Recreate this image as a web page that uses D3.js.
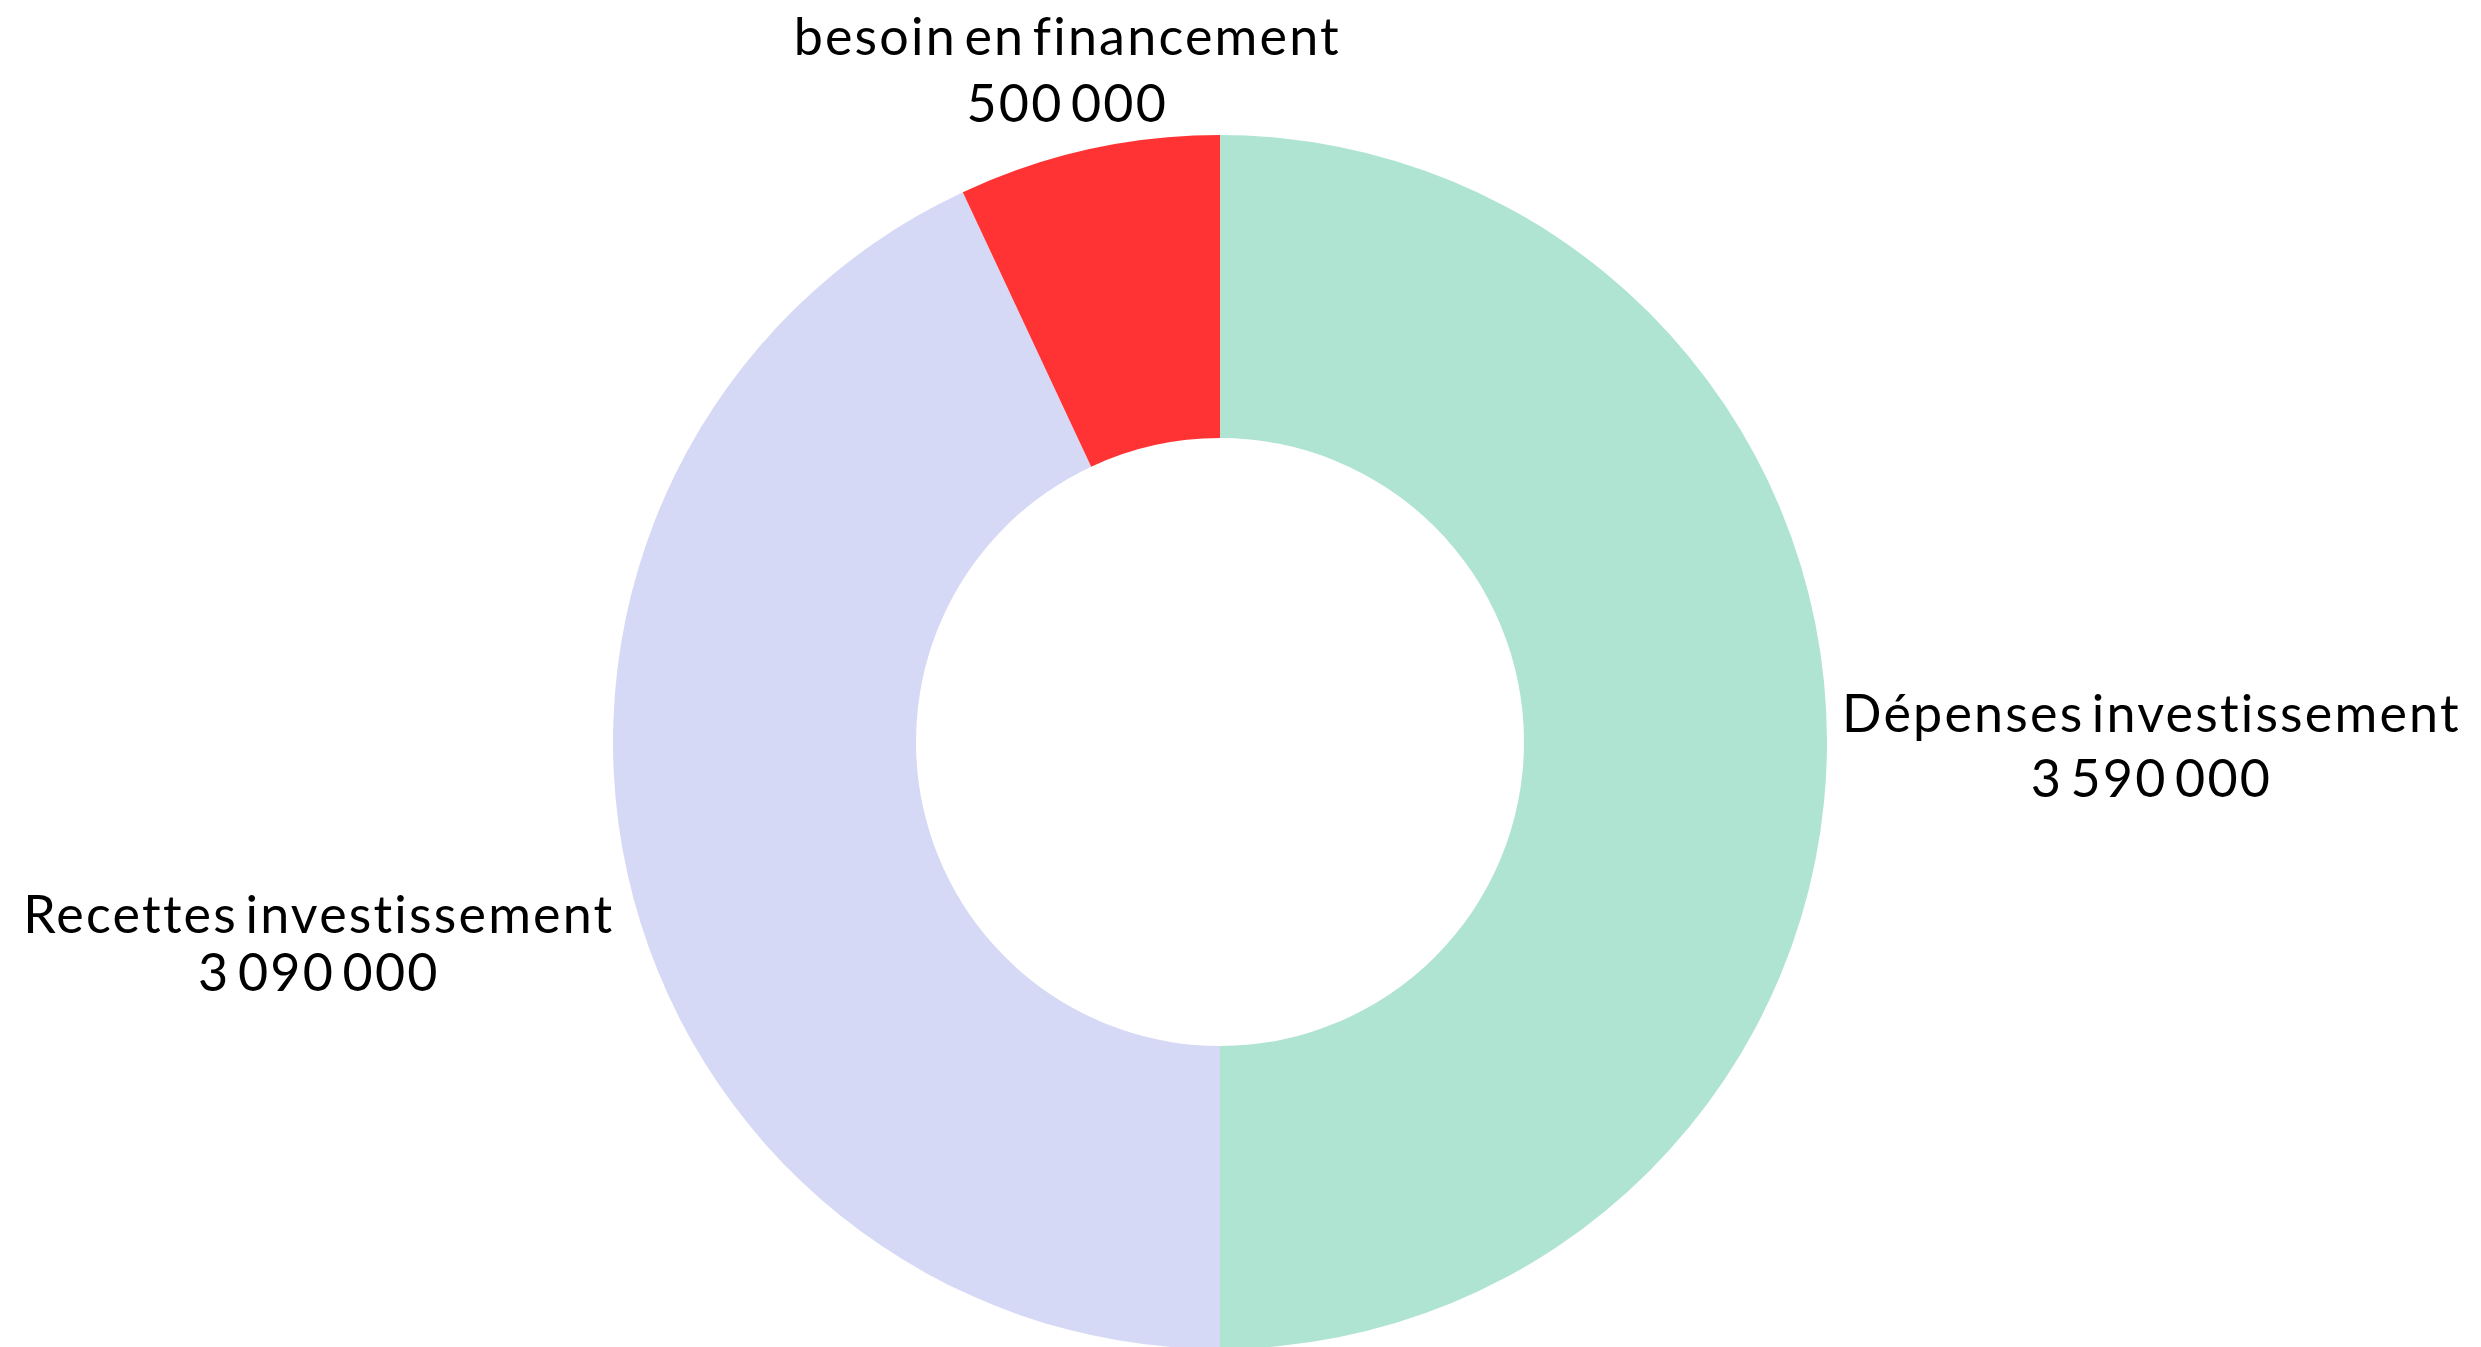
<!DOCTYPE html>
<html>
<head>
<meta charset="utf-8">
<script src="https://cdn.jsdelivr.net/npm/d3@7"></script>
<style>
  body { margin: 0; background: #fff; }
  svg text { font-family: Lato, "Noto Sans", sans-serif; fill: #000; }
</style>
</head>
<body>
<script>
// DATA
const categories = ["Dépenses investissement", "Recettes investissement", "besoin en financement"];
const values = [3590000, 3090000, 500000];
const colors = ["#b0e4d2", "#d6d9f6", "#ff3333"];

// LAYOUT
const W = 2481;
const H = 1347;
const cx = 1220;
const cy = 742;
const R = 607;
const r = 304;

// label nudges from the outer edge point at the slice middle
const labelNudge = [
  { anchor: "start", dx: 15, dy: -10, gap: 65 },
  { anchor: "end", dx: -13, dy: 59, gap: 58 },
  { anchor: "middle", dx: -21, dy: -94, gap: 67 }
];

const fmt = d3.formatLocale({ decimal: ",", thousands: " ", grouping: [3], currency: ["", " €"] }).format(",d");

const slices = categories.map((c, i) => ({ name: c, value: values[i], color: colors[i] }));

const svg = d3.select("body")
  .append("svg")
  .attr("width", W)
  .attr("height", H);

const pie = d3.pie().sort(null).value(d => d.value);
const arc = d3.arc().innerRadius(r).outerRadius(R);

const g = svg.append("g").attr("transform", `translate(${cx},${cy})`);

const arcs = pie(slices);

g.selectAll("path")
  .data(arcs)
  .enter()
  .append("path")
  .attr("d", arc)
  .attr("fill", d => d.data.color);

// labels
arcs.forEach((d, i) => {
  const mid = (d.startAngle + d.endAngle) / 2;
  const nudge = labelNudge[i];
  const x = Math.sin(mid) * R + nudge.dx;
  const y = -Math.cos(mid) * R + nudge.dy;
  const lbl = g.append("text")
    .attr("text-anchor", nudge.anchor)
    .style("font-size", "52px")
    .style("letter-spacing", "2.2px")
    .style("word-spacing", "-8px");
  lbl.append("tspan").attr("x", x).attr("y", y).text(d.data.name);
  lbl.append("tspan").attr("x", x).attr("y", y + nudge.gap).text(fmt(d.data.value));
});

// centre the value line under the name line
g.selectAll("text").each(function() {
  const t = d3.select(this);
  const spans = t.selectAll("tspan").nodes();
  const b0 = spans[0].getBBox();
  const mx = b0.x + b0.width / 2;
  t.attr("text-anchor", "middle");
  spans.forEach(s => d3.select(s).attr("x", mx));
});
</script>
</body>
</html>
